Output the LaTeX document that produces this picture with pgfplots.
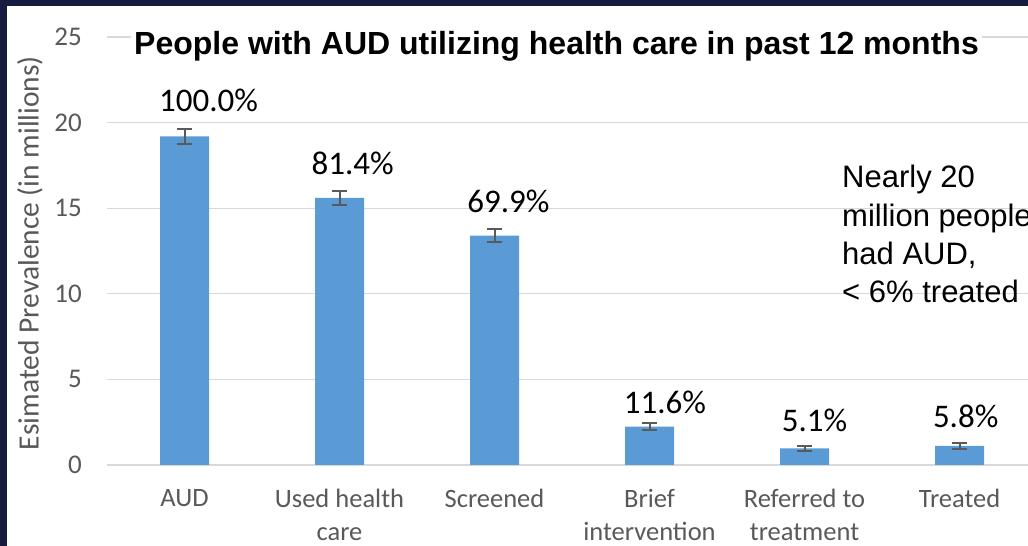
\documentclass[border=0pt]{standalone}
\usepackage{pgfplots}
\pgfplotsset{compat=1.18}
\usepackage{fontspec}
\setmainfont{Carlito}
\newfontfamily\arial{Liberation Sans}
\definecolor{navy}{HTML}{161B3F}
\definecolor{barblue}{HTML}{5B9BD5}
\definecolor{tickgray}{HTML}{595959}
\definecolor{gridgray}{HTML}{D9D9D9}
\definecolor{errgray}{HTML}{5A5A5A}
\begin{document}
\begin{tikzpicture}[x=1pt,y=1pt]
\useasboundingbox (0,0) rectangle (1028,546);
\fill[navy] (0,0) rectangle (1028,546);
\fill[white] (7,0) rectangle (1028,540);
\begin{axis}[
  scale only axis, width=930pt, height=428pt,
  at={(107pt,81pt)}, anchor=south west,
  xmin=-0.5, xmax=5.5, ymin=0, ymax=25,
  axis line style={draw=none},
  ytick={0,5,10,15,20,25},
  ymajorgrids, grid style={gridgray, line width=1.3pt},
  major tick length=0pt,
  xtick={0,1,2,3,4,5},
  xticklabels={AUD,{Used health\\care},Screened,{Brief\\intervention},{Referred to\\treatment},Treated},
  xticklabel style={align=center, font=\fontsize{26.5}{33}\selectfont, text=tickgray, anchor=north, inner sep=0pt, yshift=-24pt},
  yticklabel style={font=\fontsize{27}{30}\selectfont, text=tickgray, anchor=east, inner sep=0pt, xshift=-25pt},
  /pgf/number format/assume math mode=true,
  clip=false,
]
\addplot[ybar, bar width=49pt, fill=barblue, draw=none,
  error bars/.cd, y dir=both, y explicit,
  error bar style={draw=errgray, line width=2pt},
  error mark=|,
  error mark options={draw=errgray, line width=2pt, mark size=7.5pt}]
coordinates {(0,19.2) +- (0,0.45) (1,15.6) +- (0,0.4) (2,13.4) +- (0,0.4) (3,2.24) +- (0,0.2) (4,0.97) +- (0,0.13) (5,1.11) +- (0,0.15)};
\addplot[only marks, mark=*, mark size=0pt, mark options={draw=none, fill=none},
  point meta=explicit symbolic,
  nodes near coords={\pgfplotspointmeta\%},
  every node near coord/.append style={anchor=center, font=\fontsize{33}{35}\selectfont, text=black, inner sep=0pt}]
coordinates {(0.155,21.32)[100.0] (1.085,17.64)[81.4] (2.09,15.42)[69.9] (3.10,3.68)[11.6] (4.065,2.63)[5.1] (5.04,2.86)[5.8]};
\end{axis}
\node[fill=white, inner sep=3pt, anchor=base, font=\arial\bfseries\fontsize{32}{35}\selectfont] at (556.5,491) {People with AUD utilizing health care in past 12 months};
\node[rotate=90, font=\fontsize{29.5}{32}\selectfont, text=tickgray] at (30,293) {Esimated Prevalence (in millions)};
\begin{scope}[every node/.style={anchor=base west, inner sep=0pt, font=\arial\fontsize{31}{37}\selectfont}]
\node at (842,358) {Nearly 20};
\node at (842,319.5) {million people};
\node at (842,281.5) {had AUD,};
\node at (842,243.5) {< 6\% treated};
\end{scope}
\end{tikzpicture}
\end{document}
